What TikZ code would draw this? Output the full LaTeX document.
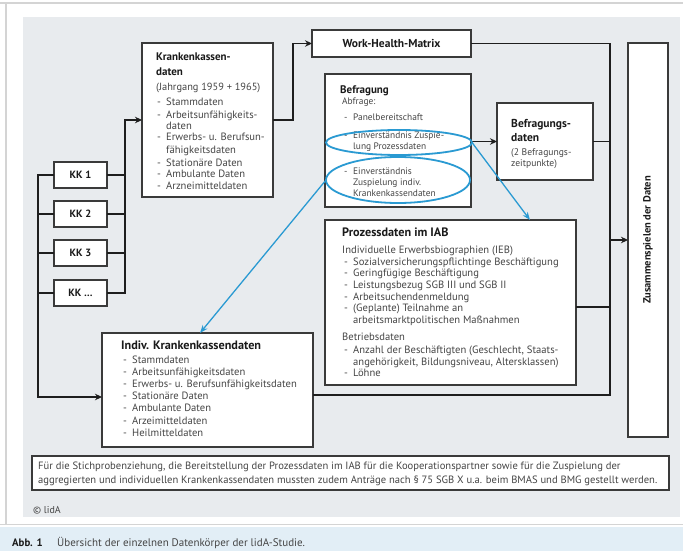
\documentclass[tikz,border=0pt]{standalone}
\usepackage{fontspec}
\setmainfont{PT Sans}
\usetikzlibrary{arrows.meta,shapes.geometric,calc}
\definecolor{panelc}{HTML}{E8EBEE}
\definecolor{bandc}{HTML}{E2EEF6}
\definecolor{framec}{HTML}{D4D4D4}
\definecolor{boxc}{HTML}{3A3A3A}
\definecolor{linec}{HTML}{1E1E1E}
\definecolor{bluec}{HTML}{2A9AD2}
\definecolor{bodyc}{HTML}{454545}
\definecolor{titlec}{HTML}{1A1A1A}
\newcommand\lidadash{\makebox[9pt][l]{-}}
\newcommand\lidaind{\hspace*{9pt}}
\begin{document}
\begin{tikzpicture}[x=1pt,y=-1pt,
  box/.style={draw=boxc, line width=1.1pt, fill=white, inner sep=0pt, outer sep=0pt, anchor=north west},
  conn/.style={draw=linec, line width=1.6pt},
  arr/.style={-{Stealth[length=7pt,width=6.5pt]}},
  bluearr/.style={draw=bluec, line width=1.3pt, -{Stealth[length=8pt,width=6pt]}},
  ell/.style={draw=bluec, line width=1.8pt, ellipse, inner sep=0pt, outer sep=0pt},
  ttl/.style={anchor=base west, inner sep=0pt, text=titlec, font=\bfseries\fontsize{11}{13}\selectfont},
  bigttl/.style={ttl, font=\bfseries\fontsize{12.2}{14}\selectfont},
  itm/.style={anchor=base west, inner sep=0pt, text=bodyc, font=\fontsize{10.6}{11.7}\selectfont},
  smitm/.style={itm, font=\fontsize{9.4}{10.5}\selectfont},
  kkbox/.style={box, minimum width=53pt, minimum height=26pt, text=titlec, font=\bfseries\fontsize{10.5}{12}\selectfont, anchor=north west},
]
\useasboundingbox (0,0) rectangle (683,551);
% frame and panels
\fill[white] (0,0) rectangle (683,551);
\fill[bandc] (0,527) rectangle (683,551);
\draw[framec, line width=2pt] (0,3) -- (683,3);
\draw[framec, line width=2pt] (6,3) -- (6,524);
\draw[framec, line width=0.8pt] (0,524.5) -- (683,524.5);
\fill[panelc] (23,17) rectangle (680,517);

% boxes
\node[box, minimum width=131pt, minimum height=154pt] (kkd) at (142,43) {};
\node[box, minimum width=159pt, minimum height=27pt, text=titlec, font=\bfseries\fontsize{11.5}{13}\selectfont] (whm) at (312,30) {Work-Health-Matrix};
\node[box, minimum width=146pt, minimum height=133pt] (befr) at (325,74) {};
\node[box, minimum width=96pt, minimum height=77pt] (befd) at (497,103) {};
\node[box, minimum width=251pt, minimum height=165pt] (proz) at (325,220) {};
\node[box, minimum width=211pt, minimum height=114pt] (indiv) at (102,333) {};
\node[box, minimum width=40pt, minimum height=394pt] (zus) at (628,43) {};
\node[kkbox] (kk1) at (54,162) {KK 1};
\node[kkbox] (kk2) at (54,201) {KK 2};
\node[kkbox] (kk3) at (54,240) {KK 3};
\node[kkbox] (kkn) at (54,280) {KK \dots};
\node[box, minimum width=637pt, minimum height=34pt] (foot) at (32,456) {};

% helper coordinates for bus lines
\coordinate (lbx) at (38,0);
\coordinate (rbx) at (125,0);
\coordinate (kbx) at (293,0);
\coordinate (cbx) at (610,0);
\coordinate (indin) at ($(indiv.west)+(0,-7pt)$);
\coordinate (indout) at ($(indiv.east)+(0,-5pt)$);
\coordinate (prozout) at ($(proz.east)+(0,-4.5pt)$);

% connectors
\draw[conn, arr] (kk1.west) -- (kk1.west -| lbx) |- (indin);
\draw[conn] (kk2.west) -- (kk2.west -| lbx);
\draw[conn] (kk3.west) -- (kk3.west -| lbx);
\draw[conn] (kkn.west) -- (kkn.west -| lbx);
\draw[conn] (kk1.east) -- (kk1.east -| rbx);
\draw[conn] (kk2.east) -- (kk2.east -| rbx);
\draw[conn] (kk3.east) -- (kk3.east -| rbx);
\draw[conn, arr] (kkn.east) -| (rbx |- kkd.west) -- (kkd.west);
\draw[conn, arr] (kkd.east) -| (kbx |- whm.west) -- (whm.west);
\draw[conn] (whm.east) -| (cbx |- indout) -- (indout);
\draw[conn, arr] (befd.west -| befr.east) -- (befd.west);
\draw[conn] (befd.east) -- (befd.east -| cbx);
\draw[conn] (prozout) -- (prozout -| cbx);
\draw[conn, arr] (zus.west -| cbx) -- (zus.west);

% Krankenkassendaten text
\node[ttl] (kkdt1) at (156,61) {Krankenkassen-};
\node[ttl] (kkdt2) at (156,75) {daten};
\node[itm, font=\fontsize{10.4}{12}\selectfont] (kkdj) at (156,91) {(Jahrgang 1959 + 1965)};
\foreach \n/\yy/\tx in {1/106/\lidadash Stammdaten,2/118/\lidadash Arbeitsunfähigkeits-,3/129/\lidaind daten,4/140/\lidadash Erwerbs- u. Berufsun-,5/153/\lidaind fähigkeitsdaten,6/166/\lidadash Stationäre Daten,7/177/\lidadash Ambulante Daten,8/189/\lidadash Arzneimitteldaten}
  \node[itm] (kkdi\n) at (157,\yy) {\tx};

% Befragung text
\node[ttl] (beft) at (340,93) {Befragung};
\node[smitm] (befa) at (342,104) {Abfrage:};
\foreach \n/\yy/\tx in {1/120/\lidadash Panelbereitschaft,2/139/\lidadash Einverständnis Zuspie-,3/149/\lidaind lung Prozessdaten,4/174/\lidadash Einverständnis,5/185/\lidaind Zuspielung indiv.,6/196/\lidaind Krankenkassendaten}
  \node[smitm] (befi\n) at (344,\yy) {\tx};

% Befragungsdaten text
\node[ttl, font=\bfseries\fontsize{11.5}{13}\selectfont] (befdt1) at (511,127) {Befragungs-};
\node[ttl, font=\bfseries\fontsize{11.5}{13}\selectfont] (befdt2) at (511,141) {daten};
\node[itm, font=\fontsize{9.6}{11}\selectfont] (befdi1) at (511,155) {(2 Befragungs-};
\node[itm, font=\fontsize{9.6}{11}\selectfont] (befdi2) at (511,166) {zeitpunkte)};

% Prozessdaten text
\node[bigttl] (prozt) at (342,236) {Prozessdaten im IAB};
\node[itm] (prozs1) at (342,253) {Individuelle Erwerbsbiographien (IEB)};
\foreach \n/\yy/\tx in {1/265/\lidadash Sozialversicherungspflichtinge Beschäftigung,2/276/\lidadash Geringfügige Beschäftigung,3/288/\lidadash Leistungsbezug SGB III und SGB II,4/300/\lidadash Arbeitsuchendenmeldung,5/311/\lidadash (Geplante) Teilnahme an,6/323/\lidaind arbeitsmarktpolitischen Maßnahmen}
  \node[itm] (prozi\n) at (344,\yy) {\tx};
\node[itm] (prozs2) at (342,340) {Betriebsdaten};
\node[itm] (prozj1) at (344,353) {\lidadash Anzahl der Beschäftigten (Geschlecht, Staats-};
\node[itm] (prozj2) at (344,365) {\lidaind angehörigkeit, Bildungsniveau, Altersklassen)};
\node[itm] (prozj3) at (344,376) {\lidadash Löhne};

% Indiv text
\node[bigttl] (indt) at (121,349) {Indiv. Krankenkassendaten};
\foreach \n/\yy/\tx in {1/363/Stammdaten,2/375/Arbeitsunfähigkeitsdaten,3/387/Erwerbs- u. Berufsunfähigkeitsdaten,4/399/Stationäre Daten,5/411/Ambulante Daten,6/424/Arzeimitteldaten,7/436/Heilmitteldaten}
  \node[itm] (indi\n) at (123,\yy) {\lidadash \tx};

% Zusammenspielen
\node[rotate=90, inner sep=0pt, text=titlec, font=\bfseries\fontsize{10.5}{12}\selectfont] (zust) at (zus.center) {Zusammenspielen der Daten};

% footnote
\node[itm] (foot1) at (38,469) {Für die Stichprobenziehung, die Bereitstellung der Prozessdaten im IAB für die Kooperationspartner sowie für die Zuspielung der};
\node[itm] (foot2) at (38,483) {aggregierten und individuellen Krankenkassendaten mussten zudem Anträge nach § 75 SGB X u.a. beim BMAS und BMG gestellt werden.};
\node[itm, font=\fontsize{10}{11}\selectfont] (copy) at (33,513) {© lidA};

% caption
\node[anchor=base west, inner sep=0pt, text=titlec, font=\bfseries\fontsize{10.8}{12}\selectfont] (capa) at (12,546) {Abb. 1};
\node[anchor=base west, inner sep=0pt, text=bodyc, font=\fontsize{11}{12}\selectfont] (capb) at (57,546) {Übersicht der einzelnen Datenkörper der lidA-Studie.};

% blue markings
\node[ell, minimum width=146pt, minimum height=25pt] (ell1) at (399,142.5) {};
\node[ell, minimum width=144pt, minimum height=46pt] (ell2) at (398,180) {};
\coordinate (bt1) at ($(proz.north west)+(205,0)$);
\coordinate (bt2) at ($(indiv.north west)+(98,0)$);
\draw[bluearr] (ell1.east) -- (bt1);
\draw[bluearr] (ell2.west) -- (bt2);
\end{tikzpicture}
\end{document}
